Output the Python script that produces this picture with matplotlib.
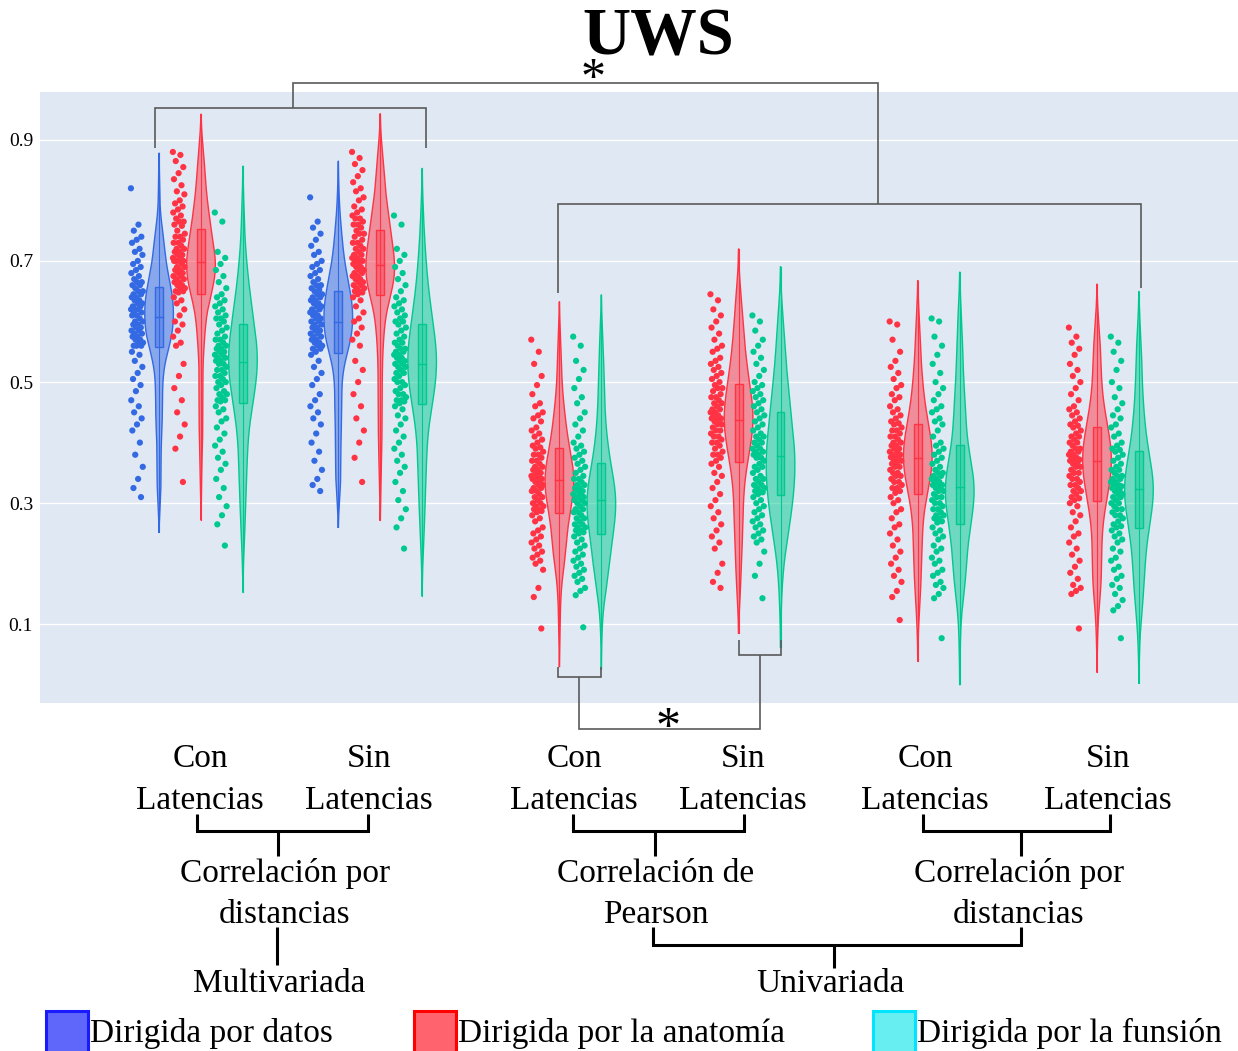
import numpy as np
import matplotlib
matplotlib.use("Agg")
import matplotlib.pyplot as plt
from matplotlib.patches import Rectangle
from matplotlib.colors import to_rgba

plt.rcParams['font.family'] = ['Liberation Serif', 'DejaVu Serif']

W, H = 1238, 1051

# ---- values (approximate samples per violin) ----
multi_con_datos = [0.82, 0.76, 0.75, 0.74, 0.735, 0.73, 0.72, 0.715, 0.71, 0.70, 0.695, 0.69, 0.685, 0.68, 0.675, 0.67, 0.665, 0.665, 0.66, 0.66,
                   0.655, 0.65, 0.65, 0.645, 0.645, 0.64, 0.64, 0.635, 0.635, 0.63, 0.63, 0.625, 0.625, 0.62, 0.62, 0.62, 0.615, 0.615, 0.61, 0.61,
                   0.605, 0.60, 0.60, 0.595, 0.595, 0.59, 0.59, 0.585, 0.585, 0.58, 0.58, 0.575, 0.575, 0.57, 0.57, 0.565, 0.565, 0.56, 0.56, 0.56,
                   0.55, 0.545, 0.535, 0.525, 0.515, 0.505, 0.495, 0.485, 0.47, 0.46, 0.45, 0.44, 0.43, 0.42, 0.40, 0.38, 0.36, 0.34, 0.325, 0.31]
multi_con_anat = [0.88, 0.875, 0.865, 0.855, 0.845, 0.835, 0.825, 0.815, 0.81, 0.80, 0.795, 0.79, 0.785, 0.78, 0.775, 0.77, 0.765, 0.765, 0.76, 0.758,
                  0.75, 0.745, 0.74, 0.74, 0.735, 0.73, 0.73, 0.725, 0.72, 0.72, 0.715, 0.715, 0.71, 0.71, 0.705, 0.705, 0.70, 0.70, 0.70, 0.70,
                  0.695, 0.69, 0.69, 0.685, 0.685, 0.68, 0.68, 0.675, 0.675, 0.67, 0.67, 0.665, 0.665, 0.66, 0.66, 0.655, 0.655, 0.65, 0.65, 0.648,
                  0.64, 0.635, 0.63, 0.62, 0.61, 0.60, 0.595, 0.585, 0.575, 0.565, 0.56, 0.53, 0.51, 0.49, 0.47, 0.45, 0.43, 0.41, 0.39, 0.335]
multi_con_func = [0.78, 0.765, 0.715, 0.705, 0.695, 0.685, 0.675, 0.665, 0.655, 0.645, 0.64, 0.635, 0.63, 0.625, 0.62, 0.615, 0.61, 0.605, 0.605, 0.60,
                  0.595, 0.59, 0.585, 0.58, 0.575, 0.57, 0.57, 0.565, 0.56, 0.56, 0.555, 0.555, 0.55, 0.55, 0.545, 0.545, 0.54, 0.54, 0.535, 0.535,
                  0.53, 0.53, 0.525, 0.52, 0.52, 0.515, 0.51, 0.51, 0.505, 0.50, 0.50, 0.495, 0.49, 0.485, 0.48, 0.48, 0.475, 0.47, 0.47, 0.468,
                  0.46, 0.455, 0.45, 0.44, 0.435, 0.425, 0.415, 0.405, 0.395, 0.385, 0.375, 0.365, 0.355, 0.34, 0.325, 0.31, 0.295, 0.28, 0.265, 0.23]
multi_sin_datos = [0.805, 0.765, 0.755, 0.745, 0.735, 0.725, 0.715, 0.71, 0.70, 0.695, 0.69, 0.685, 0.68, 0.675, 0.67, 0.665, 0.66, 0.66, 0.655, 0.653,
                   0.65, 0.645, 0.645, 0.64, 0.64, 0.635, 0.635, 0.63, 0.63, 0.625, 0.625, 0.62, 0.62, 0.615, 0.615, 0.61, 0.61, 0.605, 0.605, 0.60,
                   0.60, 0.595, 0.595, 0.59, 0.59, 0.585, 0.585, 0.58, 0.58, 0.575, 0.575, 0.57, 0.57, 0.565, 0.565, 0.56, 0.56, 0.555, 0.555, 0.55,
                   0.545, 0.535, 0.525, 0.515, 0.505, 0.495, 0.48, 0.47, 0.46, 0.45, 0.44, 0.43, 0.415, 0.40, 0.385, 0.37, 0.355, 0.34, 0.33, 0.32]
multi_sin_anat = [0.88, 0.87, 0.86, 0.85, 0.84, 0.83, 0.82, 0.815, 0.805, 0.80, 0.79, 0.785, 0.78, 0.775, 0.77, 0.77, 0.765, 0.76, 0.76, 0.755,
                  0.75, 0.745, 0.745, 0.74, 0.735, 0.73, 0.73, 0.725, 0.72, 0.72, 0.715, 0.71, 0.71, 0.705, 0.705, 0.70, 0.70, 0.70, 0.698, 0.695,
                  0.69, 0.69, 0.685, 0.685, 0.68, 0.68, 0.675, 0.675, 0.67, 0.67, 0.665, 0.665, 0.66, 0.66, 0.655, 0.655, 0.65, 0.65, 0.648, 0.645,
                  0.64, 0.635, 0.625, 0.615, 0.605, 0.60, 0.59, 0.58, 0.57, 0.56, 0.535, 0.52, 0.50, 0.48, 0.46, 0.44, 0.42, 0.40, 0.375, 0.335]
multi_sin_func = [0.775, 0.76, 0.72, 0.71, 0.70, 0.69, 0.68, 0.67, 0.66, 0.65, 0.64, 0.635, 0.63, 0.625, 0.62, 0.615, 0.61, 0.605, 0.60, 0.60,
                  0.595, 0.59, 0.585, 0.58, 0.575, 0.57, 0.565, 0.565, 0.56, 0.555, 0.555, 0.55, 0.55, 0.545, 0.545, 0.54, 0.54, 0.535, 0.535, 0.53,
                  0.53, 0.525, 0.525, 0.52, 0.515, 0.515, 0.51, 0.505, 0.50, 0.50, 0.495, 0.49, 0.485, 0.48, 0.48, 0.475, 0.47, 0.47, 0.468, 0.465,
                  0.46, 0.455, 0.445, 0.44, 0.43, 0.42, 0.41, 0.40, 0.39, 0.38, 0.37, 0.36, 0.35, 0.335, 0.32, 0.305, 0.29, 0.275, 0.26, 0.225]
pearson_con_anat = [0.57, 0.55, 0.53, 0.51, 0.495, 0.48, 0.465, 0.46, 0.45, 0.445, 0.44, 0.435, 0.425, 0.42, 0.415, 0.41, 0.405, 0.40, 0.395, 0.392,
                    0.39, 0.385, 0.38, 0.38, 0.375, 0.37, 0.37, 0.365, 0.36, 0.36, 0.355, 0.355, 0.35, 0.35, 0.345, 0.345, 0.342, 0.34, 0.34, 0.34,
                    0.335, 0.335, 0.33, 0.33, 0.325, 0.325, 0.32, 0.32, 0.315, 0.31, 0.31, 0.305, 0.30, 0.30, 0.295, 0.295, 0.29, 0.29, 0.287, 0.285,
                    0.28, 0.275, 0.27, 0.26, 0.255, 0.25, 0.245, 0.24, 0.235, 0.23, 0.225, 0.22, 0.215, 0.21, 0.205, 0.20, 0.19, 0.16, 0.145, 0.093]
pearson_con_func = [0.575, 0.56, 0.535, 0.52, 0.505, 0.49, 0.475, 0.465, 0.45, 0.44, 0.43, 0.42, 0.41, 0.40, 0.395, 0.39, 0.385, 0.38, 0.375, 0.37,
                    0.365, 0.36, 0.355, 0.35, 0.345, 0.34, 0.34, 0.335, 0.33, 0.33, 0.325, 0.325, 0.32, 0.32, 0.315, 0.315, 0.31, 0.31, 0.31, 0.305,
                    0.305, 0.30, 0.30, 0.295, 0.29, 0.29, 0.285, 0.285, 0.28, 0.275, 0.275, 0.27, 0.265, 0.265, 0.26, 0.26, 0.255, 0.255, 0.252, 0.25,
                    0.245, 0.24, 0.235, 0.23, 0.225, 0.22, 0.215, 0.21, 0.205, 0.20, 0.195, 0.19, 0.185, 0.18, 0.175, 0.17, 0.16, 0.155, 0.148, 0.095]
pearson_sin_anat = [0.645, 0.635, 0.62, 0.61, 0.60, 0.59, 0.58, 0.57, 0.56, 0.555, 0.55, 0.54, 0.535, 0.53, 0.525, 0.52, 0.515, 0.51, 0.505, 0.50,
                    0.495, 0.49, 0.49, 0.485, 0.48, 0.475, 0.475, 0.47, 0.465, 0.465, 0.46, 0.455, 0.455, 0.45, 0.45, 0.445, 0.445, 0.44, 0.44, 0.44,
                    0.435, 0.435, 0.43, 0.43, 0.425, 0.42, 0.42, 0.415, 0.41, 0.41, 0.405, 0.40, 0.40, 0.395, 0.39, 0.385, 0.38, 0.38, 0.375, 0.37,
                    0.365, 0.36, 0.35, 0.345, 0.335, 0.325, 0.315, 0.305, 0.295, 0.285, 0.275, 0.265, 0.255, 0.245, 0.235, 0.225, 0.20, 0.185, 0.17, 0.16]
pearson_sin_func = [0.61, 0.60, 0.585, 0.57, 0.56, 0.55, 0.54, 0.53, 0.52, 0.51, 0.50, 0.495, 0.49, 0.485, 0.48, 0.475, 0.47, 0.465, 0.46, 0.455,
                    0.45, 0.445, 0.44, 0.435, 0.43, 0.425, 0.42, 0.415, 0.41, 0.41, 0.405, 0.40, 0.40, 0.395, 0.39, 0.39, 0.385, 0.385, 0.38, 0.38,
                    0.375, 0.375, 0.37, 0.365, 0.36, 0.36, 0.355, 0.35, 0.345, 0.34, 0.34, 0.335, 0.33, 0.33, 0.325, 0.325, 0.32, 0.32, 0.318, 0.315,
                    0.31, 0.305, 0.30, 0.295, 0.29, 0.285, 0.28, 0.275, 0.27, 0.265, 0.26, 0.255, 0.25, 0.245, 0.24, 0.235, 0.22, 0.20, 0.18, 0.143]
dist_con_anat = [0.60, 0.595, 0.57, 0.55, 0.535, 0.525, 0.515, 0.505, 0.495, 0.49, 0.48, 0.475, 0.47, 0.46, 0.455, 0.45, 0.445, 0.44, 0.435, 0.432,
                 0.43, 0.425, 0.42, 0.42, 0.415, 0.41, 0.41, 0.405, 0.40, 0.40, 0.395, 0.395, 0.39, 0.39, 0.385, 0.385, 0.38, 0.38, 0.378, 0.376,
                 0.374, 0.37, 0.37, 0.365, 0.365, 0.36, 0.36, 0.355, 0.35, 0.35, 0.345, 0.345, 0.34, 0.335, 0.335, 0.33, 0.325, 0.325, 0.32, 0.317,
                 0.31, 0.305, 0.30, 0.29, 0.285, 0.275, 0.265, 0.26, 0.25, 0.24, 0.23, 0.22, 0.21, 0.20, 0.19, 0.18, 0.17, 0.155, 0.145, 0.107]
dist_con_func = [0.605, 0.60, 0.575, 0.56, 0.545, 0.53, 0.515, 0.50, 0.49, 0.48, 0.47, 0.46, 0.455, 0.45, 0.44, 0.435, 0.43, 0.42, 0.41, 0.40,
                 0.395, 0.39, 0.385, 0.38, 0.375, 0.37, 0.365, 0.36, 0.355, 0.35, 0.35, 0.345, 0.345, 0.34, 0.34, 0.335, 0.335, 0.33, 0.33, 0.33,
                 0.325, 0.325, 0.32, 0.32, 0.315, 0.31, 0.31, 0.305, 0.30, 0.30, 0.295, 0.29, 0.29, 0.285, 0.28, 0.28, 0.275, 0.275, 0.27, 0.268,
                 0.26, 0.255, 0.25, 0.245, 0.24, 0.23, 0.225, 0.22, 0.21, 0.205, 0.20, 0.19, 0.185, 0.18, 0.17, 0.165, 0.16, 0.15, 0.143, 0.077]
dist_sin_anat = [0.59, 0.575, 0.565, 0.555, 0.545, 0.53, 0.52, 0.51, 0.50, 0.49, 0.48, 0.47, 0.46, 0.455, 0.45, 0.445, 0.44, 0.435, 0.43, 0.428,
                 0.425, 0.42, 0.415, 0.41, 0.41, 0.405, 0.40, 0.40, 0.395, 0.39, 0.39, 0.385, 0.385, 0.38, 0.38, 0.375, 0.375, 0.372, 0.371, 0.37,
                 0.368, 0.365, 0.36, 0.36, 0.355, 0.35, 0.35, 0.345, 0.34, 0.34, 0.335, 0.33, 0.33, 0.325, 0.32, 0.32, 0.315, 0.31, 0.308, 0.305,
                 0.30, 0.295, 0.285, 0.28, 0.27, 0.26, 0.25, 0.245, 0.235, 0.225, 0.215, 0.205, 0.195, 0.185, 0.175, 0.165, 0.16, 0.155, 0.15, 0.093]
dist_sin_func = [0.575, 0.565, 0.55, 0.535, 0.52, 0.50, 0.49, 0.475, 0.465, 0.455, 0.445, 0.44, 0.43, 0.425, 0.415, 0.41, 0.40, 0.395, 0.39, 0.388,
                 0.385, 0.38, 0.375, 0.37, 0.365, 0.36, 0.355, 0.355, 0.35, 0.345, 0.345, 0.34, 0.34, 0.335, 0.335, 0.33, 0.33, 0.328, 0.326, 0.325,
                 0.322, 0.32, 0.315, 0.315, 0.31, 0.31, 0.305, 0.30, 0.30, 0.295, 0.29, 0.29, 0.285, 0.28, 0.28, 0.275, 0.27, 0.265, 0.262, 0.26,
                 0.255, 0.25, 0.245, 0.24, 0.235, 0.225, 0.22, 0.21, 0.205, 0.195, 0.19, 0.18, 0.175, 0.165, 0.16, 0.15, 0.14, 0.13, 0.123, 0.077]

y_ticks = [0.1, 0.3, 0.5, 0.7, 0.9]
legend_labels = ["Dirigida por datos", "Dirigida por la anatomía", "Dirigida por la funsión"]

colors = {'datos': '#3469E4', 'anat': '#FF3344', 'func': '#00C98F'}
offsets = {'datos': -0.234, 'anat': 0.0, 'func': 0.234}

# (category index, series, values)
violins = [
    (0, 'datos', multi_con_datos), (0, 'anat', multi_con_anat), (0, 'func', multi_con_func),
    (1, 'datos', multi_sin_datos), (1, 'anat', multi_sin_anat), (1, 'func', multi_sin_func),
    (2, 'anat', pearson_con_anat), (2, 'func', pearson_con_func),
    (3, 'anat', pearson_sin_anat), (3, 'func', pearson_sin_func),
    (4, 'anat', dist_con_anat), (4, 'func', dist_con_func),
    (5, 'anat', dist_sin_anat), (5, 'func', dist_sin_func),
]

HALF = 0.08      # violin half width (category units)
BOXW = 0.022     # box half width
PTOFF = -0.123   # points drawn left of violin
JIT = 0.034


def kde(vals):
    v = np.asarray(vals)
    q1, q3 = np.percentile(v, [25, 75])
    bw = 0.95 * min(v.std(ddof=1), (q3 - q1) / 1.349) * len(v) ** -0.2
    ys = np.linspace(v.min() - 2 * bw, v.max() + 2 * bw, 400)
    dens = np.exp(-0.5 * ((ys[:, None] - v[None, :]) / bw) ** 2).sum(axis=1)
    return ys, dens / dens.max()


fig = plt.figure(figsize=(W / 100, H / 100), dpi=100)
ax = fig.add_axes([40 / W, 1 - 703 / H, (W - 40) / W, (703 - 92) / H])
ax.set_facecolor('#DFE8F3')
ax.set_xlim((40 - 201) / 179.2, (1238 - 201) / 179.2)
ax.set_ylim(-0.03, 0.979)
for s in ax.spines.values():
    s.set_visible(False)
ax.set_xticks([])
ax.set_yticks(y_ticks)
ax.set_yticklabels([f"{t:.1f}" for t in y_ticks])
ax.tick_params(axis='y', length=0, pad=5, labelsize=14)
ax.grid(axis='y', color='white', lw=1)
ax.set_axisbelow(True)

for cat, key, vals in violins:
    col = colors[key]
    xc = cat + offsets[key]
    ys, d = kde(vals)
    ax.fill_betweenx(ys, xc - d * HALF, xc + d * HALF, facecolor=to_rgba(col, 0.5),
                     edgecolor='none', zorder=2)
    ax.plot(np.r_[xc - d * HALF, (xc + d * HALF)[::-1]], np.r_[ys, ys[::-1]],
            color=col, lw=1, zorder=3)
    v = np.asarray(vals)
    q1, med, q3 = np.percentile(v, [25, 50, 75])
    iqr = q3 - q1
    lo = v[v >= q1 - 1.5 * iqr].min()
    hi = v[v <= q3 + 1.5 * iqr].max()
    ax.plot([xc, xc], [ys[0], ys[-1]], color=col, lw=0.8, zorder=3)
    ax.add_patch(Rectangle((xc - BOXW, q1), 2 * BOXW, iqr, facecolor=to_rgba(col, 0.4),
                           edgecolor=col, lw=1, zorder=3))
    ax.plot([xc - BOXW, xc + BOXW], [med, med], color=col, lw=1, zorder=3)
    n = len(v)
    jit = ((np.arange(n) * 0.618034) % 1 - 0.5) * 2 * JIT
    ax.scatter(xc + PTOFF + jit, v, s=20, color=col, edgecolors='none', zorder=4)

# overlay in pixel coordinates for annotations
ov = fig.add_axes([0, 0, 1, 1], zorder=5)
ov.set_xlim(0, W)
ov.set_ylim(H, 0)
ov.axis('off')
ov.patch.set_alpha(0)


def path(pts, color, lw):
    xs, ys = zip(*pts)
    ov.plot(xs, ys, color=color, lw=lw, solid_capstyle='butt', solid_joinstyle='miter')


gray = '#5A5A5A'
path([(155, 148), (155, 108), (426, 108), (426, 148)], gray, 1.2)
path([(293, 108), (293, 83), (878, 83), (878, 204)], gray, 1.2)
path([(558, 293), (558, 204), (1141, 204), (1141, 288)], gray, 1.2)
path([(558, 667), (558, 677), (601, 677), (601, 667)], gray, 1.2)
path([(579, 677), (579, 729), (760, 729), (760, 655)], gray, 1.2)
path([(739, 640), (739, 655), (781, 655), (781, 640)], gray, 1.2)
ov.text(593, 92, "*", fontsize=36, ha='center', va='baseline')
ov.text(668, 741, "*", fontsize=36, ha='center', va='baseline')

ov.text(658, 55, "UWS", fontsize=48, fontweight='bold', ha='center', va='baseline')

blk = 'black'
path([(197, 814), (197, 831), (368, 831), (368, 814)], blk, 2.2)
path([(278, 831), (278, 856)], blk, 2.2)
path([(277, 927), (277, 965)], blk, 2.2)
path([(573, 814), (573, 831), (744, 831), (744, 814)], blk, 2.2)
path([(655, 831), (655, 856)], blk, 2.2)
path([(923, 814), (923, 831), (1110, 831), (1110, 814)], blk, 2.2)
path([(1021, 831), (1021, 856)], blk, 2.2)
path([(653, 927), (653, 945), (1021, 945), (1021, 927)], blk, 2.2)
path([(834, 945), (834, 968)], blk, 2.2)

fs = 24
for xc, top in [(200, "Con"), (369, "Sin"), (574, "Con"), (743, "Sin"), (925, "Con"), (1108, "Sin")]:
    ov.text(xc, 767, top, fontsize=fs, ha='center', va='baseline')
    ov.text(xc, 809, "Latencias", fontsize=fs, ha='center', va='baseline')
ov.text(285, 882, "Correlación por", fontsize=fs, ha='center', va='baseline')
ov.text(285, 923, "distancias", fontsize=fs, ha='center', va='baseline')
ov.text(656, 882, "Correlación de", fontsize=fs, ha='center', va='baseline')
ov.text(656, 923, "Pearson", fontsize=fs, ha='center', va='baseline')
ov.text(1019, 882, "Correlación por", fontsize=fs, ha='center', va='baseline')
ov.text(1019, 923, "distancias", fontsize=fs, ha='center', va='baseline')
ov.text(279, 992, "Multivariada", fontsize=fs, ha='center', va='baseline')
ov.text(830, 992, "Univariada", fontsize=fs, ha='center', va='baseline')

# legend
leg_fill = ['#5F67FA', '#FF646E', '#66EEF0']
leg_edge = ['#1A1AFF', '#FF0000', '#00E5FF']
leg_x = [46, 414, 873]
for lx, lab, fc, ec in zip(leg_x, legend_labels, leg_fill, leg_edge):
    ov.add_patch(Rectangle((lx, 1011), 42, 44, facecolor=fc, edgecolor=ec, lw=2.2))
    ov.text(lx + 44, 1042, lab, fontsize=fs, ha='left', va='baseline')

fig.savefig("out.png", dpi=100)
